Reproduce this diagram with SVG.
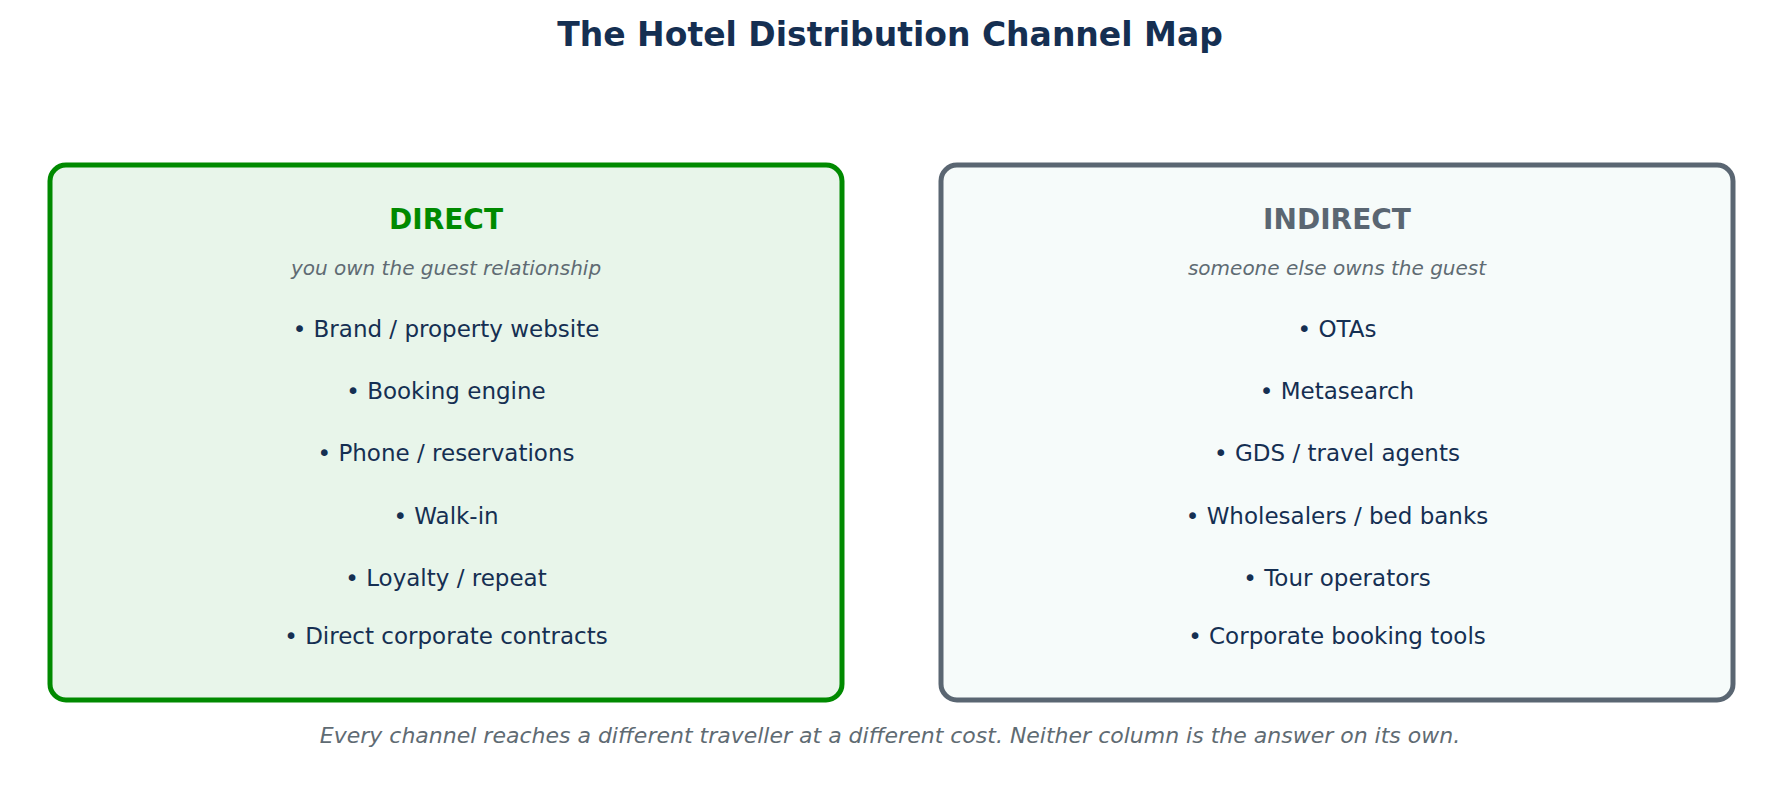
<svg xmlns="http://www.w3.org/2000/svg" width="1781" height="809" viewBox="0 0 1781 809">
<style>
text{font-family:"DejaVu Sans",sans-serif;text-anchor:middle;dominant-baseline:central}
.title{font-size:33px;font-weight:bold;fill:#152f52}
.head{font-size:28px;font-weight:bold}
.sub{font-size:20px;font-style:italic;fill:#5f6b73}
.item{font-size:23px;fill:#152f52}
.foot{font-size:22px;font-style:italic;fill:#5f6b73}
</style>
<rect width="1781" height="809" fill="#fff"/>
<text class="title" x="890" y="34">The Hotel Distribution Channel Map</text>
<g id="direct">
<rect x="50" y="165" width="792" height="535" rx="16" fill="#e8f5ea" stroke="#008a00" stroke-width="5"/>
<text class="head" x="446" y="219" fill="#008a00">DIRECT</text>
<text class="sub" x="446" y="268">you own the guest relationship</text>
<text class="item" x="446" y="329">•  Brand / property website</text>
<text class="item" x="446" y="391">•  Booking engine</text>
<text class="item" x="446" y="453">•  Phone / reservations</text>
<text class="item" x="446" y="516">•  Walk-in</text>
<text class="item" x="446" y="578">•  Loyalty / repeat</text>
<text class="item" x="446" y="636">•  Direct corporate contracts</text>
</g>
<g id="indirect">
<rect x="941" y="165" width="792" height="535" rx="16" fill="#f6fbfa" stroke="#5a6672" stroke-width="5"/>
<text class="head" x="1337" y="219" fill="#5a6672">INDIRECT</text>
<text class="sub" x="1337" y="268">someone else owns the guest</text>
<text class="item" x="1337" y="329">•  OTAs</text>
<text class="item" x="1337" y="391">•  Metasearch</text>
<text class="item" x="1337" y="453">•  GDS / travel agents</text>
<text class="item" x="1337" y="516">•  Wholesalers / bed banks</text>
<text class="item" x="1337" y="578">•  Tour operators</text>
<text class="item" x="1337" y="636">•  Corporate booking tools</text>
</g>
<g id="connectors"/>
<text class="foot" x="890" y="735">Every channel reaches a different traveller at a different cost. Neither column is the answer on its own.</text>
</svg>
